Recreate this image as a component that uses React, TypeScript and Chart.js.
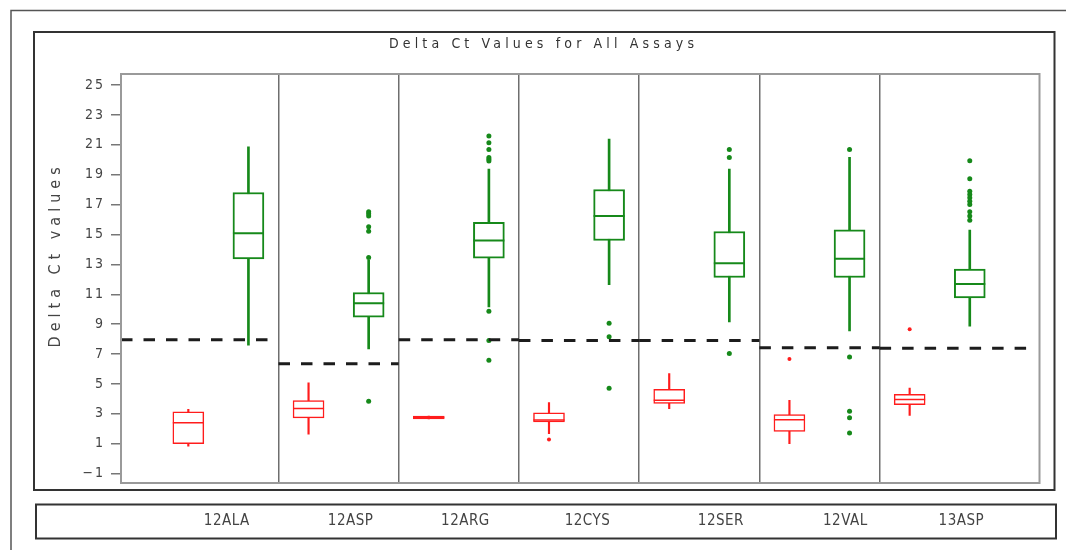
import React, { useEffect, useRef } from 'react';
import { Chart, registerables } from 'chart.js';

Chart.register(...registerables);

// ---------------- data ----------------
const assays = ['12ALA', '12ASP', '12ARG', '12CYS', '12SER', '12VAL', '13ASP'];
const yTicks = [-1, 1, 3, 5, 7, 9, 11, 13, 15, 17, 19, 21, 23, 25];
const cutoffs = [7.95, 6.35, 7.95, 7.9, 7.9, 7.42, 7.38];

// red group (left box in each assay panel)
const redMin = [0.83, 1.63, 2.65, 1.67, 3.35, 1.01, 2.9];
const redQ1 = [1.01, 2.73, 2.65, 2.46, 3.69, 1.83, 3.62];
const redMed = [2.41, 3.35, 2.75, 2.58, 3.91, 2.61, 3.95];
const redQ3 = [3.13, 3.89, 2.85, 3.06, 4.64, 2.95, 4.31];
const redMax = [3.3, 5.07, 2.85, 3.75, 5.7, 3.91, 4.73];
const redOutliers = [[], [], [], [1.28], [], [6.67], [8.66]];

// green group (right box in each assay panel)
const greenMin = [7.59, 7.34, 10.16, 11.65, 9.15, 8.55, 8.86];
const greenQ1 = [13.37, 9.47, 13.42, 14.6, 12.12, 12.12, 10.76];
const greenMed = [15.09, 10.4, 14.6, 16.23, 13.08, 13.37, 11.68];
const greenQ3 = [17.81, 11.12, 15.81, 18.01, 15.2, 15.31, 12.68];
const greenMax = [20.87, 13.28, 19.38, 21.38, 19.38, 20.16, 15.29];
const greenOutliers = [
  [],
  [16.52, 16.38, 16.23, 15.51, 15.22, 13.46, 3.84],
  [21.59, 21.14, 20.69, 20.16, 20.03, 19.91, 9.87, 7.9, 6.59],
  [9.06, 8.15, 4.71],
  [20.69, 20.16, 7.03],
  [20.69, 6.81, 3.17, 2.73, 1.72],
  [19.93, 18.73, 17.9, 17.68, 17.46, 17.23, 17.01, 16.52, 16.23, 15.96],
];

// ---------------- layout / style ----------------
const X_MIN = -1.12;
const X_MAX = 14.16;
const Y_MIN = -1.63;
const Y_MAX = 25.74;
const LABEL_SHIFT = [0.64, 0.7, 0.61, 0.64, 0.86, 0.93, 0.86];
const FONT = "'Liberation Sans Narrow', 'DejaVu Sans Condensed', 'Arial Narrow', 'DejaVu Sans', sans-serif";
const RED = '#ff1c1c';
const GREEN = '#16891a';

function boxDatasets(
  color: string,
  offset: number,
  mins: number[],
  q1s: number[],
  meds: number[],
  q3s: number[],
  maxs: number[],
  outs: number[][],
  lw: number,
  ptR: number
): any[] {
  const xs = assays.map((_, i) => 2 * i + offset);
  return [
    {
      type: 'bar',
      data: xs.map((x, i) => ({ x, y: [mins[i], maxs[i]] })),
      backgroundColor: color,
      borderWidth: 0,
      barThickness: lw,
      grouped: false,
      order: 6,
    },
    {
      type: 'bar',
      data: xs.map((x, i) => ({ x, y: [q1s[i], q3s[i]] })),
      backgroundColor: '#ffffff',
      borderColor: color,
      borderWidth: lw,
      borderSkipped: false,
      barThickness: 31,
      grouped: false,
      order: 5,
    },
    {
      type: 'scatter',
      data: xs.map((x, i) => ({ x, y: meds[i] })),
      pointStyle: 'line',
      pointRadius: 15.5,
      borderColor: color,
      borderWidth: lw,
      order: 4,
    },
    {
      type: 'scatter',
      data: outs.flatMap((arr, i) => arr.map((y) => ({ x: xs[i], y }))),
      pointStyle: 'circle',
      pointRadius: ptR,
      backgroundColor: color,
      borderWidth: 0,
      order: 3,
    },
  ];
}

const cutoffDatasets = cutoffs.map((c, i) => ({
  type: 'line',
  data: [
    { x: i === 0 ? X_MIN : 2 * i - 0.5, y: c },
    { x: i === assays.length - 1 ? X_MAX - 0.2 : 2 * i + 1.5, y: c },
  ],
  borderColor: '#1c1c1c',
  borderWidth: 3,
  borderDash: [11.5, 11],
  borderCapStyle: 'butt',
  pointRadius: 0,
  fill: false,
  order: 1,
}));

const spacingPlugin = {
  id: 'spacing',
  beforeDraw(chart: any) {
    const ctx = chart.ctx;
    const patch = (obj: any, name: string, spacing: number, dx = 0, dy = 0) => {
      if (!obj || obj['__p_' + name]) return;
      const orig = obj[name].bind(obj);
      obj[name] = (...args: any[]) => {
        ctx.save();
        (ctx as any).letterSpacing = spacing + 'px';
        if (dx || dy) ctx.translate(dx, dy);
        orig(...args);
        ctx.restore();
      };
      obj['__p_' + name] = true;
    };
    patch(chart.titleBlock, 'draw', 4.15, 23.8, 0);
    patch(chart.scales.y, 'drawLabels', 2);
    patch(chart.scales.y, 'drawTitle', 5.0, 0, -23.6);
    patch(chart.scales.x, 'drawLabels', 0.5);
  },
};

const framePlugin = {
  id: 'frames',
  afterDraw(chart: any) {
    const ctx = chart.ctx;
    const a = chart.chartArea;
    ctx.save();
    ctx.strokeStyle = '#555555';
    ctx.lineWidth = 1.5;
    ctx.beginPath();
    ctx.moveTo(11, 550);
    ctx.lineTo(11, 10.5);
    ctx.lineTo(1066, 10.5);
    ctx.stroke();
    ctx.strokeStyle = '#333333';
    ctx.lineWidth = 2;
    ctx.strokeRect(34, 32, 1020.5, 458);
    ctx.strokeRect(36, 504.5, 1020, 34);
    ctx.strokeStyle = '#9a9a9a';
    ctx.lineWidth = 2;
    ctx.strokeRect(a.left, a.top, a.right - a.left, a.bottom - a.top);
    ctx.restore();
  },
};

export default function App() {
  const ref = useRef<HTMLCanvasElement | null>(null);

  useEffect(() => {
    if (!ref.current) return;
    const chart = new Chart(ref.current, {
      type: 'bar',
      data: {
        datasets: [
          ...boxDatasets(RED, 0, redMin, redQ1, redMed, redQ3, redMax, redOutliers, 1.5, 2),
          ...boxDatasets(GREEN, 1, greenMin, greenQ1, greenMed, greenQ3, greenMax, greenOutliers, 2, 2.5),
          ...cutoffDatasets,
        ] as any,
      },
      options: {
        animation: false,
        responsive: false,
        devicePixelRatio: 1,
        layout: { padding: { top: 0, left: 0, right: 26.5, bottom: 0 } },
        plugins: {
          legend: { display: false },
          tooltip: { enabled: false },
          title: {
            display: true,
            text: 'Delta Ct Values for All Assays',
            font: { family: FONT, size: 14, weight: 'normal' },
            color: '#333333',
            padding: { top: 35.6, bottom: 21.6 },
          },
        },
        scales: {
          x: {
            type: 'linear',
            position: 'bottom',
            min: X_MIN,
            max: X_MAX,
            offset: false,
            grid: { display: false, drawTicks: false },
            border: { display: false },
            afterBuildTicks: (s: any) => {
              s.ticks = assays.map((_, i) => ({ value: 2 * i + LABEL_SHIFT[i] }));
            },
            afterFit: (s: any) => {
              s.height = 67;
            },
            ticks: {
              autoSkip: false,
              maxRotation: 0,
              minRotation: 0,
              padding: 29,
              font: { family: FONT, size: 15 },
              color: '#444444',
              callback: (_v: any, i: number) => assays[i],
            },
          },
          xDiv: {
            type: 'linear',
            axis: 'x',
            position: 'top',
            min: X_MIN,
            max: X_MAX,
            offset: false,
            grid: { display: true, drawTicks: false, color: '#6e6e6e', lineWidth: 1.5, offset: false },
            border: { display: false },
            ticks: { display: false, autoSkip: false },
            afterBuildTicks: (s: any) => {
              s.ticks = assays.slice(1).map((_, i) => ({ value: 2 * i + 1.5 }));
            },
            afterFit: (s: any) => {
              s.height = 0;
            },
          },
          y: {
            type: 'linear',
            position: 'left',
            min: Y_MIN,
            max: Y_MAX,
            grid: { drawOnChartArea: false, drawTicks: true, tickLength: 10, color: '#777777', lineWidth: 1.5 },
            border: { display: false },
            afterBuildTicks: (s: any) => {
              s.ticks = yTicks.map((v) => ({ value: v }));
            },
            afterFit: (s: any) => {
              s.width = 121;
            },
            ticks: {
              padding: 6,
              font: { family: FONT, size: 14 },
              color: '#444444',
              callback: (v: any) => (Number(v) < 0 ? '\u2212' + Math.abs(Number(v)) : String(v)),
            },
            title: {
              display: true,
              text: 'Delta Ct values',
              font: { family: FONT, size: 16 },
              color: '#444444',
              padding: { top: 45.8, bottom: 0 },
            },
          },
        } as any,
      },
      plugins: [spacingPlugin, framePlugin],
    });
    return () => chart.destroy();
  }, []);

  return (
    <div style={{ position: 'absolute', left: 0, top: 0, width: 1066, height: 550, background: '#fff' }}>
      <canvas ref={ref} width={1066} height={550} style={{ display: 'block' }} />
    </div>
  );
}
